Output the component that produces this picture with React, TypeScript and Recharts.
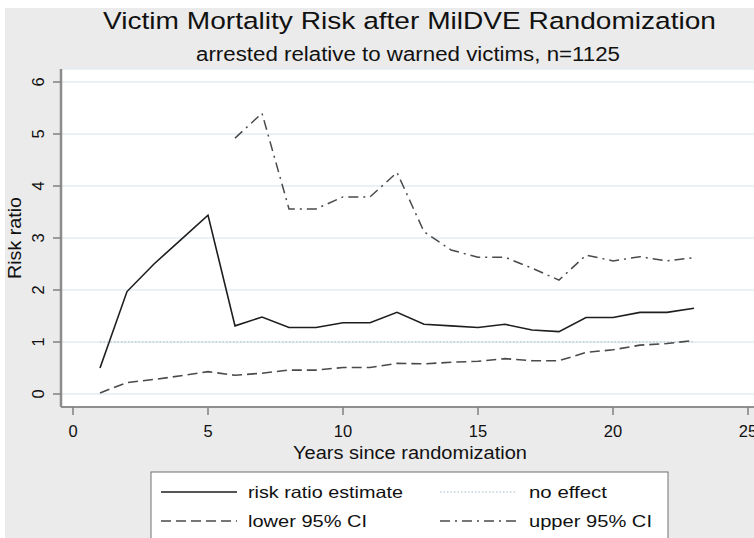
import React from 'react';
import { LineChart, Line, XAxis, YAxis, CartesianGrid, ReferenceLine } from 'recharts';

const years = [1, 2, 3, 4, 5, 6, 7, 8, 9, 10, 11, 12, 13, 14, 15, 16, 17, 18, 19, 20, 21, 22, 23];
const estimate = [0.5, 1.97, 2.5, 2.97, 3.44, 1.31, 1.48, 1.28, 1.28, 1.37, 1.37, 1.57, 1.34, 1.31, 1.28, 1.34, 1.23, 1.2, 1.47, 1.47, 1.57, 1.57, 1.65];
const lower = [0.02, 0.22, 0.28, 0.35, 0.43, 0.36, 0.4, 0.46, 0.46, 0.51, 0.51, 0.59, 0.58, 0.61, 0.63, 0.68, 0.64, 0.64, 0.8, 0.85, 0.94, 0.97, 1.03];
const upper = [null, null, null, null, null, 4.92, 5.4, 3.56, 3.56, 3.79, 3.79, 4.26, 3.12, 2.77, 2.63, 2.63, 2.42, 2.19, 2.67, 2.56, 2.64, 2.56, 2.62];
const NO_EFFECT = 1;

const xTicks = [0, 5, 10, 15, 20, 25];
const yTicks = [0, 1, 2, 3, 4, 5, 6];

const TITLE = 'Victim Mortality Risk after MilDVE Randomization';
const SUBTITLE = 'arrested relative to warned victims, n=1125';
const X_LABEL = 'Years since randomization';
const Y_LABEL = 'Risk ratio';
const LEGEND_LABELS = ['risk ratio estimate', 'no effect', 'lower 95% CI', 'upper 95% CI'];

const data = years.map((year, i) => ({
  year,
  estimate: estimate[i],
  lower: lower[i],
  upper: upper[i],
}));

const FONT = '"Liberation Sans", Arial, Helvetica, sans-serif';
const INK = '#1e1e1e';
const CI_COLOR = '#4a4a4a';
const DOT_COLOR = '#a8bcc6';
const GRID_COLOR = '#e2edf0';
const BG = '#ebebeb';

const XTick = (props: any) => {
  const { x, y, payload } = props;
  return (
    <text x={x} y={y + 20} textAnchor="middle" fontFamily={FONT} fontSize={16.5} fill="#111">
      {payload.value}
    </text>
  );
};

const YTick = (props: any) => {
  const { x, y, payload } = props;
  return (
    <text
      transform={`translate(${x - 7}, ${y}) rotate(-90)`}
      textAnchor="middle"
      fontFamily={FONT}
      fontSize={16.5}
      fill="#111"
    >
      {payload.value}
    </text>
  );
};

export default function App() {
  return (
    <div
      style={{
        position: 'absolute',
        left: 0,
        top: 0,
        width: 754,
        height: 538,
        overflow: 'hidden',
        background: '#fff',
      }}
    >
      <div style={{ position: 'absolute', left: 5, top: 8, width: 820, height: 600, background: BG }} />
      <div style={{ position: 'absolute', left: 0, top: 0 }}>
        <LineChart
          width={820}
          height={538}
          data={data}
          margin={{ top: 69, right: 31, bottom: 101, left: 1 }}
        >
          <CartesianGrid
            vertical={false}
            horizontal={true}
            stroke={GRID_COLOR}
            strokeWidth={1.5}
            fill="#ffffff"
            fillOpacity={1}
          />
          <XAxis
            type="number"
            dataKey="year"
            domain={[-12 / 27, 716 / 27]}
            allowDataOverflow
            ticks={xTicks}
            tick={<XTick />}
            tickSize={8}
            tickMargin={2}
            height={30}
            axisLine={{ stroke: '#6f6f6f', strokeWidth: 1.5 }}
            tickLine={{ stroke: '#808080', strokeWidth: 1.5 }}
          />
          <YAxis
            type="number"
            domain={[-0.25, 6.25]}
            allowDataOverflow
            ticks={yTicks}
            tick={<YTick />}
            tickSize={8}
            tickMargin={2}
            width={60}
            axisLine={{ stroke: '#8c8c8c', strokeWidth: 2.5 }}
            tickLine={{ stroke: '#808080', strokeWidth: 1.5 }}
          />
          <Line
            type="linear"
            dataKey="estimate"
            stroke={INK}
            strokeWidth={1.6}
            dot={false}
            isAnimationActive={false}
          />
          <ReferenceLine
            segment={[
              { x: years[0], y: NO_EFFECT },
              { x: years[years.length - 1], y: NO_EFFECT },
            ]}
            stroke={DOT_COLOR}
            strokeWidth={1.2}
            strokeDasharray="1.5 2"
          />
          <Line
            type="linear"
            dataKey="lower"
            stroke={CI_COLOR}
            strokeWidth={1.6}
            strokeDasharray="10 5"
            dot={false}
            isAnimationActive={false}
          />
          <Line
            type="linear"
            dataKey="upper"
            stroke={CI_COLOR}
            strokeWidth={1.5}
            strokeDasharray="10 5 2 5"
            dot={false}
            connectNulls={false}
            isAnimationActive={false}
          />
        </LineChart>
      </div>
      <svg
        width={754}
        height={538}
        style={{ position: 'absolute', left: 0, top: 0, pointerEvents: 'none' }}
      >
        <text x={409.5} y={29} textAnchor="middle" fontFamily={FONT} fontSize={24.5} fill="#111"
          textLength={613} lengthAdjust="spacingAndGlyphs">
          {TITLE}
        </text>
        <text x={408} y={61} textAnchor="middle" fontFamily={FONT} fontSize={20} fill="#111"
          textLength={424} lengthAdjust="spacingAndGlyphs">
          {SUBTITLE}
        </text>
        <text x={410} y={458.5} textAnchor="middle" fontFamily={FONT} fontSize={17.5} fill="#111"
          textLength={234} lengthAdjust="spacingAndGlyphs">
          {X_LABEL}
        </text>
        <text transform="translate(21, 238) rotate(-90)" textAnchor="middle" fontFamily={FONT}
          fontSize={18} fill="#111" textLength={82} lengthAdjust="spacingAndGlyphs">
          {Y_LABEL}
        </text>
        <rect x={151} y={472} width={517} height={90} fill="#fff" stroke="#707070" strokeWidth={1} />
        <line x1={161} x2={237} y1={492} y2={492} stroke={INK} strokeWidth={1.6} />
        <line x1={440} x2={517} y1={492} y2={492} stroke={DOT_COLOR} strokeWidth={1.2} strokeDasharray="1.5 2" />
        <line x1={161} x2={237} y1={521} y2={521} stroke={CI_COLOR} strokeWidth={1.6} strokeDasharray="10 5" />
        <line x1={440} x2={517} y1={521} y2={521} stroke={CI_COLOR} strokeWidth={1.5} strokeDasharray="10 5 2 5" />
        <text x={248} y={497.5} fontFamily={FONT} fontSize={16.5} fill="#111" textLength={155} lengthAdjust="spacingAndGlyphs">
          {LEGEND_LABELS[0]}
        </text>
        <text x={529} y={497.5} fontFamily={FONT} fontSize={16.5} fill="#111" textLength={78} lengthAdjust="spacingAndGlyphs">
          {LEGEND_LABELS[1]}
        </text>
        <text x={248} y={527} fontFamily={FONT} fontSize={16.5} fill="#111" textLength={119} lengthAdjust="spacingAndGlyphs">
          {LEGEND_LABELS[2]}
        </text>
        <text x={529} y={527} fontFamily={FONT} fontSize={16.5} fill="#111" textLength={123} lengthAdjust="spacingAndGlyphs">
          {LEGEND_LABELS[3]}
        </text>
      </svg>
    </div>
  );
}
